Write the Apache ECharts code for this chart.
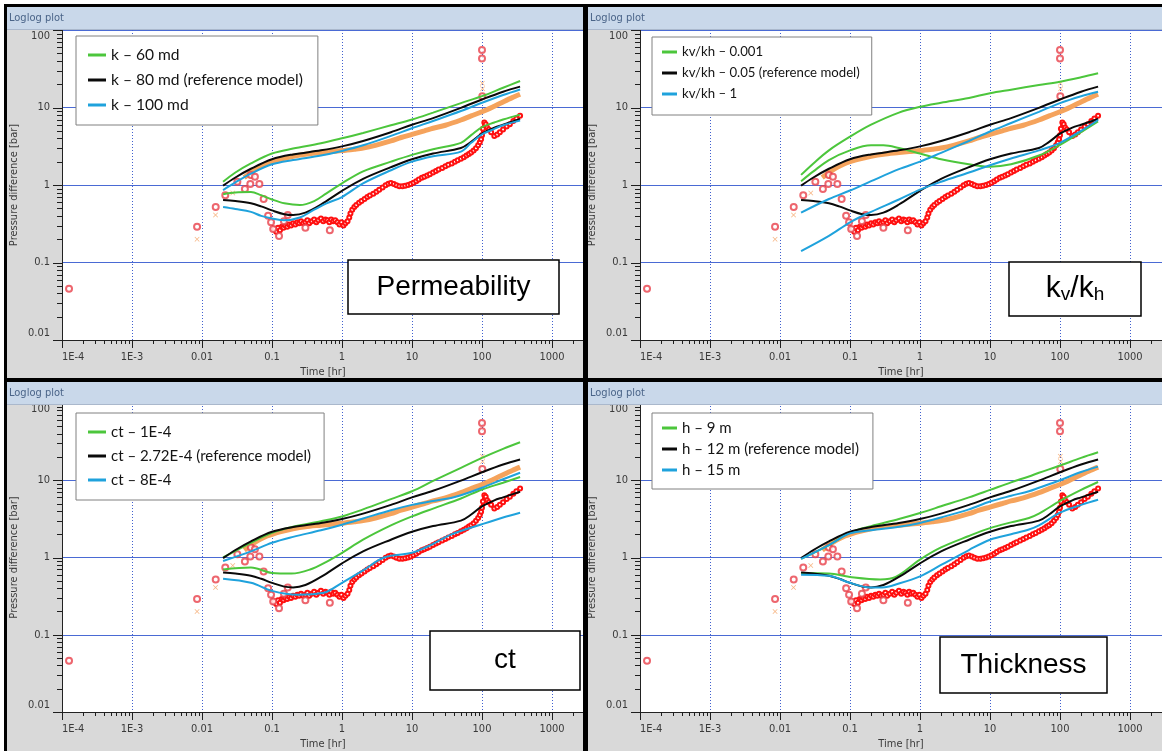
<!DOCTYPE html>
<html>
<head>
<meta charset="utf-8">
<script src="https://cdn.jsdelivr.net/npm/echarts@6/dist/echarts.min.js"></script>
<style>
html,body{margin:0;padding:0;background:#fff;}
#chart{width:1162px;height:751px;}
</style>
</head>
<body>
<div id="chart"></div>
<script>
// ---------- tick labels ----------
const xMajor = [1e-4, 1e-3, 0.01, 0.1, 1, 10, 100, 1000];
const xLabels = ['1E-4', '1E-3', '0.01', '0.1', '1', '10', '100', '1000'];
const yMajor = [0.01, 0.1, 1, 10, 100];
const yLabels = ['0.01', '0.1', '1', '10', '100'];

// ---------- measured data (shared by all four plots) ----------
const redEarly = [[0.000126,0.046],[0.0085,0.29],[0.0157,0.52],[0.0215,0.74],[0.032,1.1],[0.041,0.89],[0.049,1.03],[0.05,1.35],[0.057,1.28],[0.066,1.03],[0.076,0.66],[0.088,0.40],[0.097,0.33],[0.104,0.27],[0.126,0.22],[0.148,0.34],[0.168,0.41],[0.67,0.26],[0.3,0.28]];
const redSpike = [[100,55],[100,43],[101,14]];
const redCurve = [[0.108,0.27],[0.115,0.25],[0.122,0.28],[0.13,0.26],[0.138,0.29],[0.146,0.28],[0.155,0.30],[0.165,0.29],[0.175,0.31],[0.187,0.30],[0.2,0.32],[0.215,0.31],[0.23,0.33],[0.245,0.32],[0.26,0.34],[0.28,0.32],[0.3,0.33],[0.32,0.35],[0.34,0.32],[0.37,0.34],[0.4,0.36],[0.43,0.33],[0.46,0.35],[0.5,0.37],[0.54,0.34],[0.58,0.36],[0.62,0.35],[0.66,0.33],[0.7,0.36],[0.75,0.34],[0.8,0.35],[0.86,0.33],[0.92,0.31],[0.98,0.33],[1.05,0.30],[1.12,0.32],[1.2,0.34],[1.27,0.38],[1.32,0.43],[1.4,0.48],[1.5,0.52],[1.6,0.55],[1.75,0.59],[1.9,0.62],[2.1,0.66],[2.3,0.70],[2.5,0.73],[2.8,0.77],[3.1,0.82],[3.4,0.87],[3.8,0.93],[4.2,0.99],[4.6,1.04],[5.0,1.06],[5.5,1.03],[6.0,0.99],[6.6,0.96],[7.3,0.96],[8.0,0.98],[8.8,1.0],[9.6,1.03],[10.5,1.07],[11.5,1.12],[12.5,1.18],[13.8,1.24],[15,1.28],[16.5,1.33],[18,1.38],[20,1.45],[22,1.52],[24,1.58],[27,1.66],[30,1.74],[33,1.82],[37,1.9],[41,2.0],[45,2.08],[50,2.18],[55,2.28],[60,2.4],[65,2.52],[70,2.62],[76,2.78],[82,2.98],[88,3.25],[93,3.55],[97,3.9],[100,4.4],[103,5.3],[108,6.4],[113,6.1],[118,5.5],[125,5.2],[135,4.8],[150,4.3],[165,4.5],[180,4.8],[200,5.2],[225,5.7],[250,6.1],[280,6.7],[310,7.2],[350,7.8]];
const orangeEarly = [[0.0085,0.2],[0.0156,0.41],[0.0275,0.79],[0.033,1.07],[0.046,1.28]];
const orangeSpike = [[101,20.5],[102,17.5]];
const orangeCurve = [[0.04,1.25],[0.05,1.45],[0.06,1.62],[0.07,1.75],[0.085,1.9],[0.1,2.0],[0.13,2.15],[0.2,2.35],[0.3,2.5],[0.5,2.62],[0.7,2.7],[1,2.78],[1.5,2.9],[2,3.0],[3,3.25],[5,3.7],[7,4.1],[10,4.5],[15,5.0],[20,5.4],[30,5.9],[50,6.9],[70,7.8],[100,8.8],[150,10.4],[200,11.8],[270,13.4],[350,14.8]];

// ---------- reference model (black, same in all plots) ----------
const refDp = [[0.02,0.98],[0.03,1.25],[0.05,1.62],[0.1,2.15],[0.2,2.48],[0.5,2.8],[1,3.15],[2,3.7],[5,4.8],[10,6.0],[20,7.3],[50,9.9],[100,12.7],[200,16.0],[350,18.6]];
const refDer = [[0.02,0.64],[0.03,0.62],[0.05,0.58],[0.07,0.53],[0.1,0.47],[0.15,0.42],[0.2,0.41],[0.3,0.44],[0.5,0.56],[1,0.84],[2,1.2],[5,1.7],[10,2.15],[20,2.55],[50,3.0],[70,3.6],[100,4.6],[150,5.5],[200,6.0],[350,7.1]];

// ---------- permeability ----------
const k60Dp = [[0.02,1.1],[0.03,1.45],[0.05,1.9],[0.1,2.55],[0.2,2.95],[0.5,3.45],[1,4.0],[2,4.7],[5,5.9],[10,7.0],[20,8.6],[50,11.4],[100,14.0],[200,18.0],[350,22]];
const k60Der = [[0.02,0.76],[0.03,0.8],[0.05,0.81],[0.07,0.74],[0.1,0.65],[0.15,0.58],[0.25,0.55],[0.4,0.62],[0.6,0.78],[1,1.05],[2,1.5],[5,2.0],[10,2.45],[20,2.9],[50,3.5],[70,4.4],[100,5.6],[150,6.4],[200,7.0],[350,8.1]];
const k100Dp = [[0.02,0.86],[0.03,1.08],[0.05,1.4],[0.1,1.85],[0.2,2.1],[0.5,2.4],[1,2.75],[2,3.25],[5,4.3],[10,5.4],[20,6.7],[50,9.0],[100,11.5],[200,14.5],[350,17.1]];
const k100Der = [[0.02,0.52],[0.03,0.49],[0.05,0.45],[0.07,0.4],[0.1,0.37],[0.15,0.35],[0.25,0.38],[0.4,0.48],[0.6,0.58],[1,0.7],[2,1.05],[5,1.55],[10,2.0],[20,2.35],[50,2.7],[70,3.5],[100,4.5],[150,5.3],[200,5.9],[350,6.8]];

// ---------- kv/kh ----------
const kv001Dp = [[0.02,1.35],[0.03,1.9],[0.05,2.8],[0.1,4.2],[0.2,6.0],[0.5,8.6],[1,10.2],[2,11.5],[5,13.3],[10,15.3],[20,17.0],[50,19.5],[100,21.5],[200,24.5],[350,27.6]];
const kv001Der = [[0.02,1.12],[0.03,1.5],[0.05,2.1],[0.1,2.8],[0.2,3.25],[0.3,3.25],[0.5,3.0],[1,2.55],[2,2.15],[5,1.85],[10,1.72],[20,1.85],[50,2.4],[100,3.3],[200,4.8],[350,6.6]];
const kv1Dp = [[0.02,0.44],[0.05,0.66],[0.1,0.85],[0.2,1.12],[0.5,1.6],[1,2.0],[2,2.6],[5,3.7],[10,4.9],[20,6.3],[50,8.8],[100,11.4],[200,14.0],[350,16.0]];
const kv1Der = [[0.02,0.14],[0.05,0.22],[0.1,0.33],[0.2,0.45],[0.5,0.65],[1,0.87],[2,1.1],[5,1.45],[10,1.8],[20,2.2],[50,2.8],[100,3.5],[200,5.0],[350,6.9]];

// ---------- ct ----------
const ct1Dp = [[0.02,1.0],[0.05,1.55],[0.1,2.08],[0.2,2.5],[0.5,2.95],[1,3.4],[2,4.2],[5,5.7],[10,7.2],[20,9.8],[50,14.5],[100,19.5],[200,25.5],[350,31]];
const ct1Der = [[0.02,0.7],[0.05,0.74],[0.1,0.63],[0.19,0.62],[0.35,0.7],[0.6,0.88],[1,1.15],[2,1.7],[5,2.6],[10,3.4],[20,4.3],[50,5.8],[100,7.6],[200,9.3],[350,11]];
const ct8Dp = [[0.02,0.9],[0.05,1.2],[0.1,1.55],[0.2,1.85],[0.5,2.25],[1,2.66],[2,3.2],[5,4.1],[10,4.8],[20,5.4],[36,5.9],[50,6.4],[100,8.0],[200,10.3],[350,12.5]];
const ct8Der = [[0.02,0.53],[0.05,0.47],[0.1,0.37],[0.23,0.33],[0.55,0.35],[1,0.47],[2,0.68],[4,1.0],[10,1.15],[20,1.5],[36,1.98],[100,2.7],[200,3.3],[350,3.8]];

// ---------- thickness ----------
const h9Dp = [[0.02,0.96],[0.05,1.45],[0.1,2.1],[0.2,2.55],[0.5,3.15],[1,3.77],[2,4.6],[5,6.0],[10,7.5],[20,9.4],[36,11.2],[50,12.5],[100,15.5],[200,19.5],[350,23]];
const h9Der = [[0.02,0.63],[0.05,0.62],[0.1,0.56],[0.27,0.52],[0.45,0.56],[1,0.94],[2,1.35],[5,1.9],[10,2.4],[20,2.85],[36,3.25],[50,3.7],[100,5.4],[200,7.5],[350,9.5]];
const h15Dp = [[0.02,0.96],[0.05,1.45],[0.1,2.05],[0.2,2.25],[0.5,2.5],[1,2.8],[2,3.3],[5,4.2],[10,5.3],[20,6.3],[36,7.2],[50,8.0],[100,10.0],[200,12.8],[350,15.0]];
const h15Der = [[0.02,0.6],[0.05,0.58],[0.1,0.47],[0.19,0.41],[0.29,0.41],[0.5,0.46],[1,0.57],[2,0.8],[5,1.25],[10,1.7],[20,2.0],[36,2.3],[50,2.6],[100,3.8],[200,4.8],[350,5.6]];

// ---------- panel definitions ----------
const GREEN = '#4cc63c', BLACK = '#0a0a0a', BLUE = '#1fa2dc';
const panels = [
  {grid:{left:62, top:30}, models:[
    {name:'k \u2013 60 md', color:GREEN, dp:k60Dp, der:k60Der},
    {name:'k \u2013 80 md (reference model)', color:BLACK, dp:refDp, der:refDer},
    {name:'k \u2013 100 md', color:BLUE, dp:k100Dp, der:k100Der}],
   legend:{left:76, top:36, padding:[9,15,10,12], fontSize:15.6, lineHeight:20, gap:5, iw:18}},
  {grid:{left:640, top:30}, models:[
    {name:'kv/kh \u2013 0.001', color:GREEN, dp:kv001Dp, der:kv001Der},
    {name:'kv/kh \u2013 0.05 (reference model)', color:BLACK, dp:refDp, der:refDer},
    {name:'kv/kh \u2013 1', color:BLUE, dp:kv1Dp, der:kv1Der}],
   legend:{left:652, top:37, padding:[6,12,12,10], fontSize:13.2, lineHeight:18, gap:3, iw:15}},
  {grid:{left:62, top:403}, models:[
    {name:'ct \u2013 1E-4', color:GREEN, dp:ct1Dp, der:ct1Der},
    {name:'ct \u2013 2.72E-4 (reference model)', color:BLACK, dp:refDp, der:refDer},
    {name:'ct \u2013 8E-4', color:BLUE, dp:ct8Dp, der:ct8Der}],
   legend:{left:76, top:413, padding:[9,13,10,12], fontSize:15, lineHeight:20, gap:4, iw:18}},
  {grid:{left:640, top:403}, models:[
    {name:'h \u2013 9 m', color:GREEN, dp:h9Dp, der:h9Der},
    {name:'h \u2013 12 m (reference model)', color:BLACK, dp:refDp, der:refDer},
    {name:'h \u2013 15 m', color:BLUE, dp:h15Dp, der:h15Der}],
   legend:{left:652, top:413, padding:[6,14,10,10], fontSize:15, lineHeight:18, gap:3, iw:15}}
];

const GW = 522, GH = 310, DEC = 70;
const X_MIN = 1e-4, Y_MIN = 0.01, Y_MAX = 100;
const xMax = Math.pow(10, GW / DEC - 4);
function minorList(d0, d1, maxV) {
  const out = [];
  for (let d = d0; d <= d1; d++) for (let m = 2; m <= 9; m++) {
    const v = m * Math.pow(10, d);
    if (v < maxV) out.push(+v.toPrecision(6));
  }
  return out;
}
const xMinor = minorList(-4, 3, xMax);
const yMinor = minorList(-2, 1, Y_MAX);
function labelOf(v, majors, labels) {
  for (let i = 0; i < majors.length; i++) {
    if (Math.abs(Math.log10(v) - Math.log10(majors[i])) < 1e-6) return labels[i];
  }
  return '';
}
const AXFONT = "'Liberation Sans Narrow','DejaVu Sans Condensed','Roboto',sans-serif";
const AXCOL = '#3a3a3a';
const TICKCOL = '#1e1e1e';

// tick marks drawn through the axes' own scales (api.coord)
const xTickData = xMajor.map(v => [v, Y_MIN, 8]).concat(xMinor.map(v => [v, Y_MIN, 4]));
const yTickData = yMajor.map(v => [X_MIN, v, 9]).concat(yMinor.map(v => [X_MIN, v, 5]));
function xTickRender(params, api) {
  const p = api.coord([api.value(0), api.value(1)]);
  const x = Math.round(p[0]) + 0.5, y = Math.round(p[1]);
  const len = api.value(2);
  return {type:'line', shape:{x1:x, y1:y, x2:x, y2:y + len}, style:{stroke:TICKCOL, lineWidth:1}};
}
function yTickRender(params, api) {
  const p = api.coord([api.value(0), api.value(1)]);
  const x = Math.round(p[0]), y = Math.round(p[1]) + 0.5;
  const len = api.value(2);
  return {type:'line', shape:{x1:x - len, y1:y, x2:x, y2:y}, style:{stroke:TICKCOL, lineWidth:1}};
}

const grids = [], xAxes = [], yAxes = [], series = [], legends = [];
const XSYM = 'path://M0,1L1,0L5,4L9,0L10,1L6,5L10,9L9,10L5,6L1,10L0,9L4,5Z';

panels.forEach((p, i) => {
  grids.push({left:p.grid.left, top:p.grid.top, width:GW, height:GH, show:true, backgroundColor:'#ffffff', borderWidth:0, containLabel:false});
  xAxes.push({
    type:'log', gridIndex:i, min:X_MIN, max:xMax, logBase:10, position:'bottom',
    name:'Time [hr]', nameLocation:'middle', nameGap:27,
    nameTextStyle:{fontFamily:AXFONT, fontSize:11, color:AXCOL},
    axisLine:{show:true, lineStyle:{color:'#222', width:1}},
    axisTick:{show:false, customValues:xMajor},
    minorTick:{show:false},
    axisLabel:{show:true, customValues:xMajor, margin:12, fontFamily:AXFONT, fontSize:11, color:AXCOL,
      alignMinLabel:'left', formatter:(v)=>labelOf(v, xMajor, xLabels)},
    splitLine:{show:true, lineStyle:{color:'#4060d0', type:[1,2], width:1}},
    minorSplitLine:{show:false}
  });
  yAxes.push({
    type:'log', gridIndex:i, min:Y_MIN, max:Y_MAX, logBase:10, position:'left',
    name:'Pressure difference [bar]', nameLocation:'middle', nameGap:42, nameRotate:90,
    nameTextStyle:{fontFamily:AXFONT, fontSize:11, color:AXCOL},
    axisLine:{show:true, lineStyle:{color:'#222', width:1}},
    axisTick:{show:false, customValues:yMajor},
    minorTick:{show:false},
    axisLabel:{show:true, customValues:yMajor, margin:12, fontFamily:AXFONT, fontSize:11, color:AXCOL,
      formatter:(v)=>{
        const s = labelOf(v, yMajor, yLabels);
        if (s === yLabels[yLabels.length-1]) return '{top|' + s + '}';
        if (s === yLabels[0]) return '{bot|' + s + '}';
        return s;
      },
      rich:{top:{padding:[12,0,0,0], fontFamily:AXFONT, fontSize:11, color:AXCOL},
            bot:{padding:[0,0,14,0], fontFamily:AXFONT, fontSize:11, color:AXCOL}}},
    splitLine:{show:true, lineStyle:{color:'#4a6ad4', type:'solid', width:1}},
    minorSplitLine:{show:false}
  });
  const xi = i, yi = i;
  // tick marks
  series.push({name:'x ticks', type:'custom', xAxisIndex:xi, yAxisIndex:yi, data:xTickData, renderItem:xTickRender, clip:false, silent:true, z:6, encode:{x:0, y:1}});
  series.push({name:'y ticks', type:'custom', xAxisIndex:xi, yAxisIndex:yi, data:yTickData, renderItem:yTickRender, clip:false, silent:true, z:6, encode:{x:0, y:1}});
  // measured data
  series.push({name:'Pressure data', type:'line', xAxisIndex:xi, yAxisIndex:yi, data:orangeCurve, showSymbol:false, smooth:0.3,
    lineStyle:{color:'#f5a35c', width:5}, itemStyle:{color:'#f5a35c'}, z:2, silent:true});
  series.push({name:'Pressure data pts', type:'scatter', xAxisIndex:xi, yAxisIndex:yi, data:orangeEarly.concat(orangeSpike),
    symbol:XSYM, symbolSize:5, itemStyle:{color:'#f4a060'}, z:2, silent:true});
  series.push({name:'Derivative data', type:'line', xAxisIndex:xi, yAxisIndex:yi, data:redCurve, showSymbol:true,
    symbol:'emptyCircle', symbolSize:4, lineStyle:{color:'#ff0000', width:3}, itemStyle:{color:'#ff1010', borderWidth:1.2}, z:2, silent:true});
  series.push({name:'Derivative data pts', type:'scatter', xAxisIndex:xi, yAxisIndex:yi, data:redEarly.concat(redSpike),
    symbol:'emptyCircle', symbolSize:6, itemStyle:{color:'#e8404a', borderColor:'#e8404a', borderWidth:1.2}, z:2, silent:true});
  // models
  p.models.forEach(m => {
    [m.dp, m.der].forEach(d => {
      series.push({name:m.name, type:'line', xAxisIndex:xi, yAxisIndex:yi, data:d, showSymbol:false, smooth:0.35,
        lineStyle:{color:m.color, width:2}, itemStyle:{color:m.color}, z:4, silent:true});
    });
  });
  const L = p.legend;
  legends.push({
    data:p.models.map(m => m.name), orient:'vertical', left:L.left, top:L.top, padding:L.padding,
    itemGap:L.gap, itemWidth:L.iw, itemHeight:3, icon:'rect', selectedMode:false,
    backgroundColor:'#ffffff', borderColor:'#808080', borderWidth:1,
    textStyle:{fontFamily:'Lato', fontSize:L.fontSize, lineHeight:L.lineHeight, color:'#141414'}
  });
});

// ---------- frame, title bars and annotation boxes ----------
const panelBoxes = [{x:7,y:7,w:576},{x:588,y:7,w:574},{x:7,y:382,w:576},{x:588,y:382,w:574}];
const graphics = [];
panelBoxes.forEach(b => {
  graphics.push({type:'rect', z:50, shape:{x:b.x, y:b.y, width:b.w, height:22}, style:{fill:'#c9d8ea'}});
  graphics.push({type:'rect', z:50, shape:{x:b.x, y:b.y+22, width:b.w, height:1}, style:{fill:'#aab8cc'}});
  graphics.push({type:'text', z:51, x:b.x+2, y:b.y+11, style:{text:'Loglog plot', fontFamily:AXFONT, fontSize:11, fill:'#4a6488', verticalAlign:'middle'}});
});
// white margin and black separators
graphics.push({type:'rect', z:60, shape:{x:0,y:0,width:1162,height:4}, style:{fill:'#ffffff'}});
graphics.push({type:'rect', z:60, shape:{x:0,y:0,width:4,height:751}, style:{fill:'#ffffff'}});
graphics.push({type:'rect', z:61, shape:{x:4,y:4,width:1158,height:3}, style:{fill:'#000000'}});
graphics.push({type:'rect', z:61, shape:{x:4,y:4,width:3,height:747}, style:{fill:'#000000'}});
graphics.push({type:'rect', z:61, shape:{x:583,y:4,width:5,height:747}, style:{fill:'#000000'}});
graphics.push({type:'rect', z:61, shape:{x:4,y:378,width:1158,height:4}, style:{fill:'#000000'}});
// annotation boxes
function annot(x, y, w, h, textStyle) {
  graphics.push({type:'rect', z:70, shape:{x:x, y:y, width:w, height:h}, style:{fill:'#ffffff', stroke:'#000000', lineWidth:1.5}});
  graphics.push({type:'text', z:71, x:x + w/2, y:y + h/2, style:Object.assign({align:'center', verticalAlign:'middle', fontFamily:"'Liberation Sans',Arial,sans-serif", fontSize:28, fill:'#000'}, textStyle)});
}
annot(348, 260, 211, 54, {text:'Permeability'});
annot(1009, 262, 132, 54, {text:'{a|k}{b|v}{a|/k}{b|h}', rich:{a:{fontSize:30, fontFamily:"'Liberation Sans',Arial,sans-serif", fill:'#000'}, b:{fontSize:19, fontFamily:"'Liberation Sans',Arial,sans-serif", fill:'#000', padding:[12,0,0,0]}}});
annot(430, 631, 150, 59, {text:'ct'});
annot(940, 637, 167, 56, {text:'Thickness'});

const chart = echarts.init(document.getElementById('chart'), null, {renderer:'canvas'});
chart.setOption({
  backgroundColor:'#d9d9d9',
  animation:false,
  grid:grids, xAxis:xAxes, yAxis:yAxes, legend:legends, series:series,
  graphic:{elements:graphics}
});
</script>
</body>
</html>
